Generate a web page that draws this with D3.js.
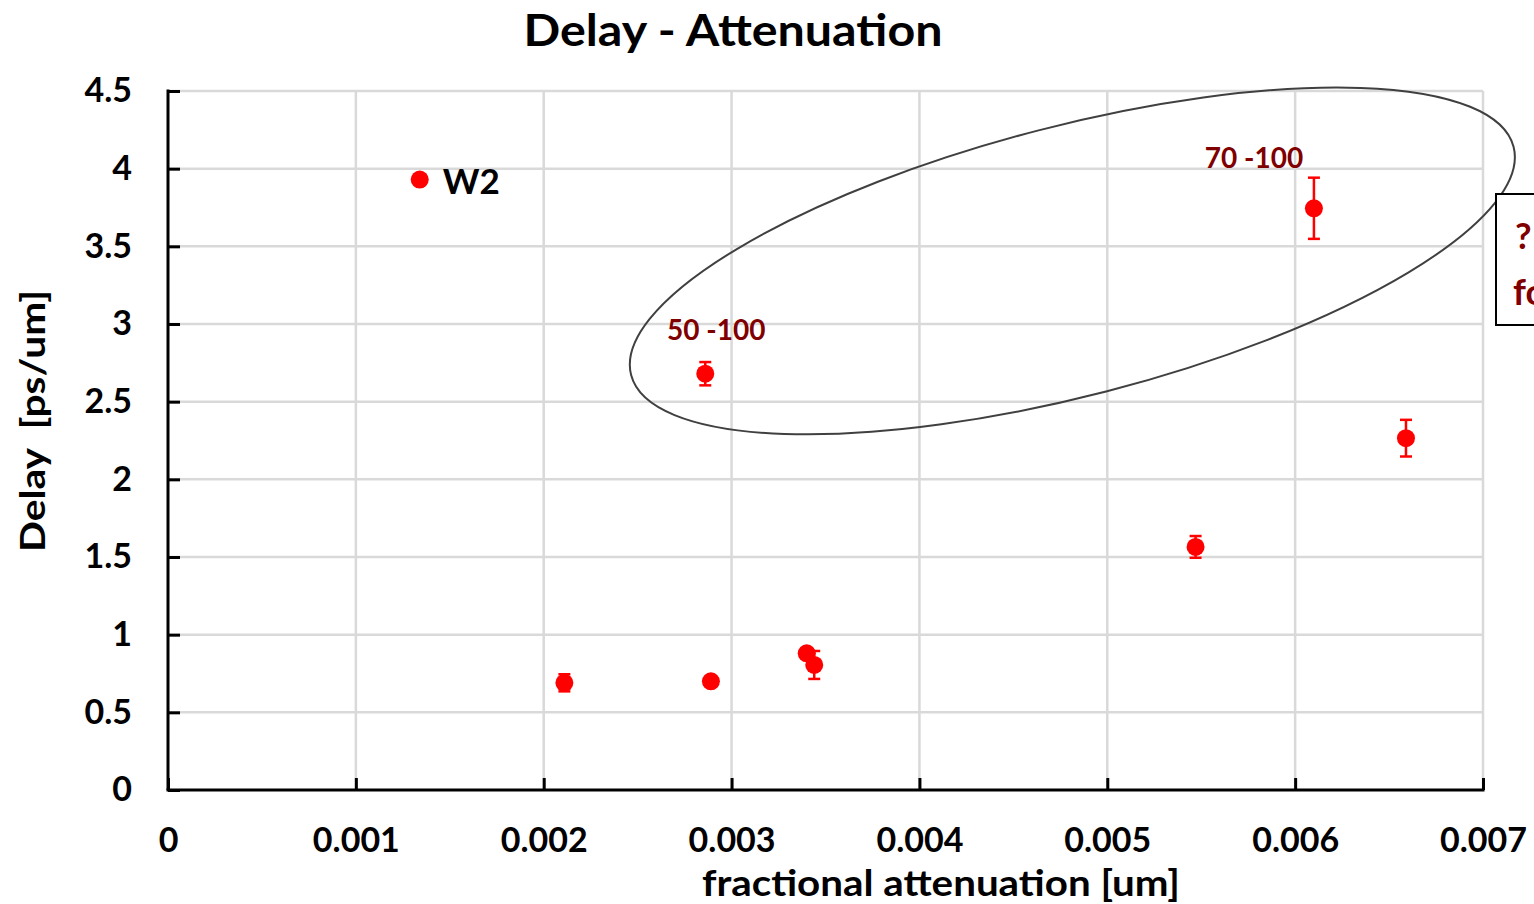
<!DOCTYPE html>
<html>
<head>
<meta charset="utf-8">
<script src="https://cdn.jsdelivr.net/npm/d3@7"></script>
<style>
  html, body { margin: 0; padding: 0; background: #fff; overflow: hidden; }
  svg { display: block; }
  text { font-family: "Century Gothic", "URW Gothic", "Lato", "DejaVu Sans", sans-serif; font-weight: bold; }
</style>
</head>
<body>
<svg id="chart" width="1534" height="904"></svg>
<script>
// Measured samples: fractional attenuation vs delay, with delay uncertainty
const attenuation = [0.00134, 0.00211, 0.00289, 0.00286, 0.00340, 0.00344, 0.00547, 0.00610, 0.00659];
const delay       = [3.93,    0.69,    0.70,    2.68,    0.88,    0.805,   1.565,   3.745,   2.265];
const delayErr    = [0,       0.055,   0.03,    0.075,   0.03,    0.09,    0.07,    0.197,   0.118];

const xTicks = [0, 0.001, 0.002, 0.003, 0.004, 0.005, 0.006, 0.007];
const xTickLabels = ["0", "0.001", "0.002", "0.003", "0.004", "0.005", "0.006", "0.007"];
const yTicks = [0, 0.5, 1, 1.5, 2, 2.5, 3, 3.5, 4, 4.5];
const yTickLabels = ["0", "0.5", "1", "1.5", "2", "2.5", "3", "3.5", "4", "4.5"];

// Point annotations
const noteText = ["W2", "50 -100", "70 -100"];
const noteIndex = [0, 3, 7];

// Grouping ellipse around the 50-100 and 70-100 samples (centre in data units)
const groupCentre = [0.004814, 3.406];
const groupSemiAxes = [0.002426, 0.000718]; // expressed in x-axis units
const groupTilt = -14.5;

const svg = d3.select("#chart");
const margin = { left: 168, right: 1483, top: 91, bottom: 790 };

const x = d3.scaleLinear().domain([0, 0.007]).range([margin.left, margin.right]);
const y = d3.scaleLinear().domain([0, 4.5]).range([margin.bottom, margin.top]);

const grid = "#d9d9d9";
const darkRed = "#800000";

// Gridlines
svg.append("g").selectAll("line").data(xTicks.slice(1)).join("line")
  .attr("x1", d => x(d)).attr("x2", d => x(d))
  .attr("y1", y(4.5)).attr("y2", y(0))
  .attr("stroke", grid).attr("stroke-width", 2.5);
svg.append("g").selectAll("line").data(yTicks.slice(1)).join("line")
  .attr("x1", x(0)).attr("x2", x(0.007))
  .attr("y1", d => y(d)).attr("y2", d => y(d))
  .attr("stroke", grid).attr("stroke-width", 2.5);

// Axes
const xAxis = d3.axisBottom(x).tickValues(xTicks).tickFormat((d, i) => xTickLabels[i])
  .tickSizeInner(-12).tickSizeOuter(0);
const gx = svg.append("g").attr("transform", `translate(0,${y(0)})`).call(xAxis);
gx.select(".domain").attr("stroke", "#000").attr("stroke-width", 3)
  .attr("d", `M${x(0) - 1.5},0H${x(0.007) + 1.5}`);
gx.selectAll(".tick line").attr("stroke", "#000").attr("stroke-width", 3);
gx.selectAll(".tick text").attr("fill", "#000").attr("font-size", 34)
  .attr("dy", "0.71em").attr("y", 38);

const yAxis = d3.axisLeft(y).tickValues(yTicks).tickFormat((d, i) => yTickLabels[i])
  .tickSizeInner(-12).tickSizeOuter(0);
const gy = svg.append("g").attr("transform", `translate(${x(0)},0)`).call(yAxis);
gy.select(".domain").attr("stroke", "#000").attr("stroke-width", 3)
  .attr("d", `M0,${y(4.5) - 1.5}V${y(0)}`);
gy.selectAll(".tick line").attr("stroke", "#000").attr("stroke-width", 3);
gy.selectAll(".tick text").attr("fill", "#000").attr("font-size", 34).attr("x", -36);

// Error bars
const pts = attenuation.map((a, i) => ({ a, d: delay[i], e: delayErr[i] }));
const eb = svg.append("g").attr("stroke", "#ff0000").attr("stroke-width", 2.5);
pts.filter(p => p.e > 0).forEach(p => {
  const cx = x(p.a);
  eb.append("line").attr("x1", cx).attr("x2", cx).attr("y1", y(p.d - p.e)).attr("y2", y(p.d + p.e));
  [p.d - p.e, p.d + p.e].forEach(v => {
    eb.append("line").attr("x1", cx - 6).attr("x2", cx + 6).attr("y1", y(v)).attr("y2", y(v));
  });
});

// Markers
svg.append("g").selectAll("circle").data(pts).join("circle")
  .attr("cx", p => x(p.a)).attr("cy", p => y(p.d)).attr("r", 9)
  .attr("fill", "#ff0000");

// Grouping ellipse
const ecx = x(groupCentre[0]), ecy = y(groupCentre[1]);
const erx = x(groupSemiAxes[0]) - x(0), ery = x(groupSemiAxes[1]) - x(0);
svg.append("ellipse")
  .attr("cx", ecx).attr("cy", ecy).attr("rx", erx).attr("ry", ery)
  .attr("transform", `rotate(${groupTilt},${ecx},${ecy})`)
  .attr("fill", "none").attr("stroke", "#404040").attr("stroke-width", 2);

// Point annotations
svg.append("text").text(noteText[0])
  .attr("x", x(attenuation[noteIndex[0]]) + 23).attr("y", y(delay[noteIndex[0]]) + 14)
  .attr("font-size", 35).attr("fill", "#000");
svg.append("text").text(noteText[1])
  .attr("x", x(attenuation[noteIndex[1]]) + 11).attr("y", y(delay[noteIndex[1]]) - 34)
  .attr("text-anchor", "middle").attr("font-size", 28).attr("fill", darkRed);
svg.append("text").text(noteText[2])
  .attr("x", x(attenuation[noteIndex[2]]) - 60).attr("y", y(delay[noteIndex[2]]) - 40)
  .attr("text-anchor", "middle").attr("font-size", 28).attr("fill", darkRed);

// Side note box (runs past the right edge)
svg.append("rect").attr("x", 1496).attr("y", 194).attr("width", 200).attr("height", 131)
  .attr("fill", "#fff").attr("stroke", "#000").attr("stroke-width", 2);
svg.append("text").text("?").attr("x", 1515).attr("y", 249).attr("font-size", 36).attr("fill", darkRed);
svg.append("text").text("fo").attr("x", 1513).attr("y", 305).attr("font-size", 36).attr("fill", darkRed);

// Titles
svg.append("text").text("Delay - Attenuation")
  .attr("x", 733).attr("y", 46).attr("text-anchor", "middle").attr("font-size", 44).attr("fill", "#000")
  .attr("textLength", 419).attr("lengthAdjust", "spacingAndGlyphs");
svg.append("text").text("fractional attenuation [um]")
  .attr("x", 941).attr("y", 896).attr("text-anchor", "middle").attr("font-size", 36).attr("fill", "#000")
  .attr("textLength", 478).attr("lengthAdjust", "spacingAndGlyphs");
svg.append("text").text("Delay  [ps/um]")
  .attr("transform", "translate(45,421) rotate(-90)")
  .attr("text-anchor", "middle").attr("font-size", 34).attr("fill", "#000")
  .attr("xml:space", "preserve")
  .attr("textLength", 262).attr("lengthAdjust", "spacingAndGlyphs");
</script>
</body>
</html>
